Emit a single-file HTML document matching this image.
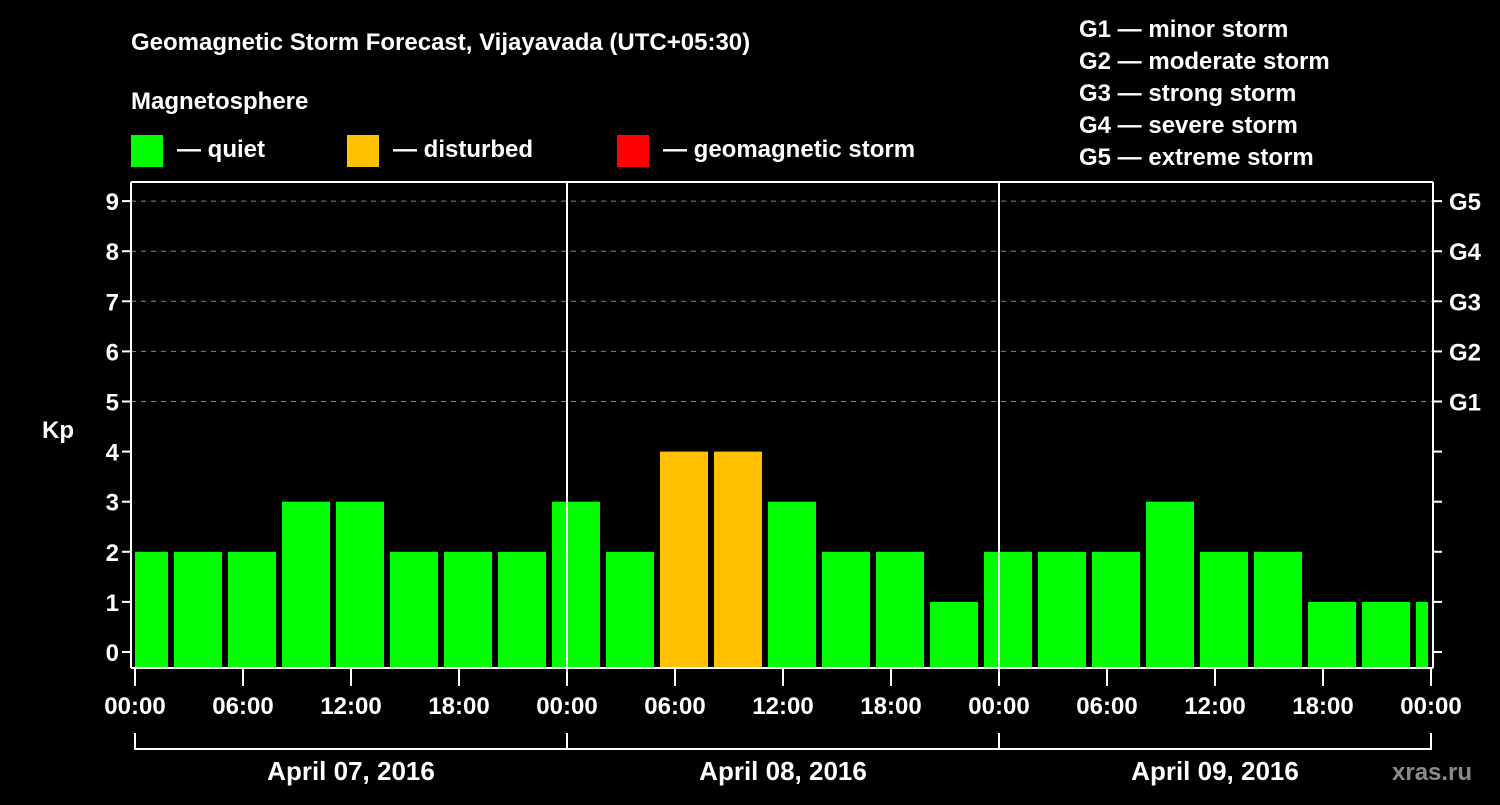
<!DOCTYPE html>
<html><head><meta charset="utf-8"><style>
body{margin:0;background:#000;width:1500px;height:800px;overflow:hidden}
svg text{font-family:"Liberation Sans",sans-serif;font-weight:bold;fill:#fff}
</style></head><body>
<svg id="c" width="1500" height="800">
<rect width="1500" height="800" fill="#000"/>
<text x="131" y="50" font-size="24">Geomagnetic Storm Forecast, Vijayavada (UTC+05:30)</text>
<text x="131" y="109" font-size="24">Magnetosphere</text>
<g><rect x="131" y="135" width="32" height="32" fill="#00ff00"/><text x="177" y="157" font-size="24">— quiet</text></g>
<g><rect x="347" y="135" width="32" height="32" fill="#ffc000"/><text x="393" y="157" font-size="24">— disturbed</text></g>
<g><rect x="617" y="135" width="32" height="32" fill="#ff0000"/><text x="663" y="157" font-size="24">— geomagnetic storm</text></g>
<g font-size="24">
<text x="1079" y="37">G1 — minor storm</text><text x="1079" y="69">G2 — moderate storm</text><text x="1079" y="101">G3 — strong storm</text><text x="1079" y="133">G4 — severe storm</text><text x="1079" y="165">G5 — extreme storm</text></g>
<text x="42" y="438" font-size="24">Kp</text>
<g id="grid"></g><g id="bars"></g><g id="axes"></g>
<text x="1392" y="780" font-size="24" fill="#888" style="fill:#8a8a8a">xras.ru</text>
</svg>
<script>
const kpValues=[2,2,2,3,3,2,2,2,3,2,4,4,3,2,2,1,2,2,2,3,2,2,1,1,1];
const yTicks=[0,1,2,3,4,5,6,7,8,9];
const gLabels=["","","","","","G1","G2","G3","G4","G5"];
const xTickLabels=["00:00","06:00","12:00","18:00","00:00","06:00","12:00","18:00","00:00","06:00","12:00","18:00","00:00"];
const dayLabels=["April 07, 2016","April 08, 2016","April 09, 2016"];
const NS="http://www.w3.org/2000/svg";
const X0=135,PXH=18,L=131,R=1433,T=182,B=668;
const xs=h=>X0+h*PXH, ys=v=>652-50.1*v;
function mk(tag,attrs,parent,txt){const e=document.createElementNS(NS,tag);for(const k in attrs)e.setAttribute(k,attrs[k]);if(txt!=null)e.textContent=txt;document.getElementById(parent).appendChild(e);return e;}
yTicks.forEach(v=>{const y=ys(v);
 if(v>=5){const g=mk('line',{x1:L,x2:R,y1:y,y2:y,stroke:'#888','stroke-dasharray':'5,5','stroke-width':1},'grid');
 
 }
 const t=mk('line',{x1:L-9,x2:L,y1:y,y2:y,stroke:'#fff','stroke-width':2},'axes');
 
 
 const t2=mk('line',{x1:R,x2:R+9,y1:y,y2:y,stroke:'#fff','stroke-width':2},'axes');
 
 
 const lb=mk('text',{x:L-12,y:y+9,'font-size':24,'text-anchor':'end'},'axes',String(v));
 
 
 if(gLabels[v]){const gl=mk('text',{x:R+16,y:y+9,'font-size':24},'axes',gLabels[v]);
 
 }
});
kpValues.forEach((v,i)=>{let x1=xs(-1+3*i)+3,x2=xs(-1+3*i)+51;x1=Math.max(x1,X0);x2=Math.min(x2,1428);
 const col=v>=5?'#ff0000':(v>=4?'#ffc000':'#00ff00');
 const b=mk('rect',{x:x1,y:ys(v),width:x2-x1,height:B-ys(v),fill:col},'bars');
 
 });
[[L,T,L,B],[L,T,R,T],[R,T,R,B],[L,B,R,B],[xs(24),T,xs(24),B],[xs(48),T,xs(48),B]].forEach(a=>{
 const l=mk('line',{x1:a[0],y1:a[1],x2:a[2],y2:a[3],stroke:'#fff','stroke-width':2},'axes');
 
 });
xTickLabels.forEach((s,i)=>{const x=xs(i*6);
 const tk=mk('line',{x1:x,x2:x,y1:B,y2:B+18,stroke:'#fff','stroke-width':2},'axes');
 
 
 const t=mk('text',{x:x,y:714,'font-size':24,'text-anchor':'middle'},'axes',s);
 
 });
const br=mk('line',{x1:xs(0),x2:xs(72),y1:749,y2:749,stroke:'#fff','stroke-width':2},'axes');


[0,24,48,72].forEach(h=>{const l=mk('line',{x1:xs(h),x2:xs(h),y1:733,y2:750,stroke:'#fff','stroke-width':2},'axes');
 
 });
dayLabels.forEach((s,i)=>{const t=mk('text',{x:xs(24*i+12),y:780,'font-size':26,'text-anchor':'middle'},'axes',s);
 
 });
</script>
</body></html>
